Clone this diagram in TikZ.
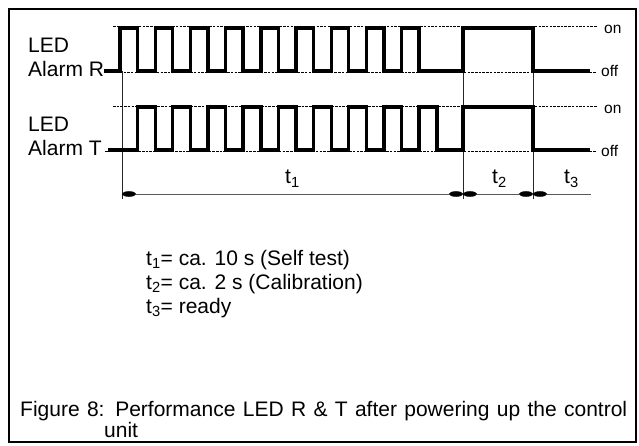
\documentclass[tikz,border=0pt]{standalone}
\usepackage{fontspec}
\setmainfont{Liberation Sans}
\usetikzlibrary{arrows.meta}
\tikzset{blob/.tip={Ellipse[length=14pt,width=5.5pt,color=black]}}
\begin{document}
\begin{tikzpicture}[x=1pt,y=-1pt,
  wave/.style={line width=3.4pt, line join=miter},
  level/.style={line width=0.9pt, dash pattern=on 2.5pt off 1.2pt},
  guide/.style={line width=0.8pt, black!85},
  dim/.style={line width=0.9pt, black!65},
  lbl/.style={font=\fontsize{21}{24}\selectfont, inner sep=0pt, anchor=base west},
  state/.style={font=\fontsize{15.5}{18}\selectfont, inner sep=0pt, anchor=west}]
\useasboundingbox (0,0) rectangle (639,446);
\draw[line width=2pt] (9,9) rectangle (635.5,442);
% reference levels
\draw[level] (113,26) -- (597,26);
\draw[level] (105,72) -- (597,72);
\draw[level] (113,106) -- (597,106);
\draw[level] (105,151.5) -- (597,151.5);
% guides
\coordinate (g0a) at (122,71);  \coordinate (g0b) at (122,199);
\coordinate (g1a) at (463,71);  \coordinate (g1b) at (463,199);
\coordinate (g2a) at (533,71);  \coordinate (g2b) at (533,199);
\draw[guide] (g0a) -- (g0b);
\draw[guide] (g1a) -- (g1b);
\draw[guide] (g2a) -- (g2b);
% waveforms
\draw[wave] (104,71) \foreach \k in {0,...,8}{ -- ({120+35.2*\k},71) -- ({120+35.2*\k},28) -- ({137.5+35.2*\k},28) -- ({137.5+35.2*\k},71) } -- (463,71) -- (463,28) -- (533,28) -- (533,71) -- (590,71);
\draw[wave] (108,150) \foreach \k in {0,...,8}{ -- ({137.5+35.2*\k},150) -- ({137.5+35.2*\k},107) -- ({155.2+35.2*\k},107) -- ({155.2+35.2*\k},150) } -- (463,150) -- (463,107) -- (533,107) -- (533,150) -- (590,150);
% dimension arrows
\coordinate (c0) at (122,194);
\coordinate (c1) at (463,194);
\coordinate (c2) at (533,194);
\coordinate (c3) at (591,194);
\draw[dim, {blob}-{blob}] (c0) -- (c1);
\draw[dim, {blob}-{blob}] (c1) -- (c2);
\draw[dim, {blob}-] (c2) -- (c3);
% labels
\node[lbl] (ledR) at (28,53) {LED};
\node[lbl] (alR) at (28,77) {Alarm R};
\node[lbl] (ledT) at (28,132) {LED};
\node[lbl] (alT) at (28,156) {Alarm T};
\node[state] (onR) at (604,29) {on};
\node[state] (offR) at (601,71) {off};
\node[state] (onT) at (604,109) {on};
\node[state] (offT) at (601,151) {off};
\node[lbl] (t1) at (285,184) {t\textsubscript{1}};
\node[lbl] (t2) at (492,184) {t\textsubscript{2}};
\node[lbl] (t3) at (564,184) {t\textsubscript{3}};
\node[lbl] (l1) at (146,265) {t\textsubscript{1}= ca. 10 s (Self test)};
\node[lbl] (l2) at (146,289) {t\textsubscript{2}= ca. 2 s (Calibration)};
\node[lbl] (l3) at (146,313) {t\textsubscript{3}= ready};
\node[lbl] (cap1) at (20,416) {\makebox[607pt][s]{Figure 8: Performance LED R \& T after powering up the control}};
\node[lbl] (cap2) at (104,437) {unit};
\end{tikzpicture}
\end{document}
